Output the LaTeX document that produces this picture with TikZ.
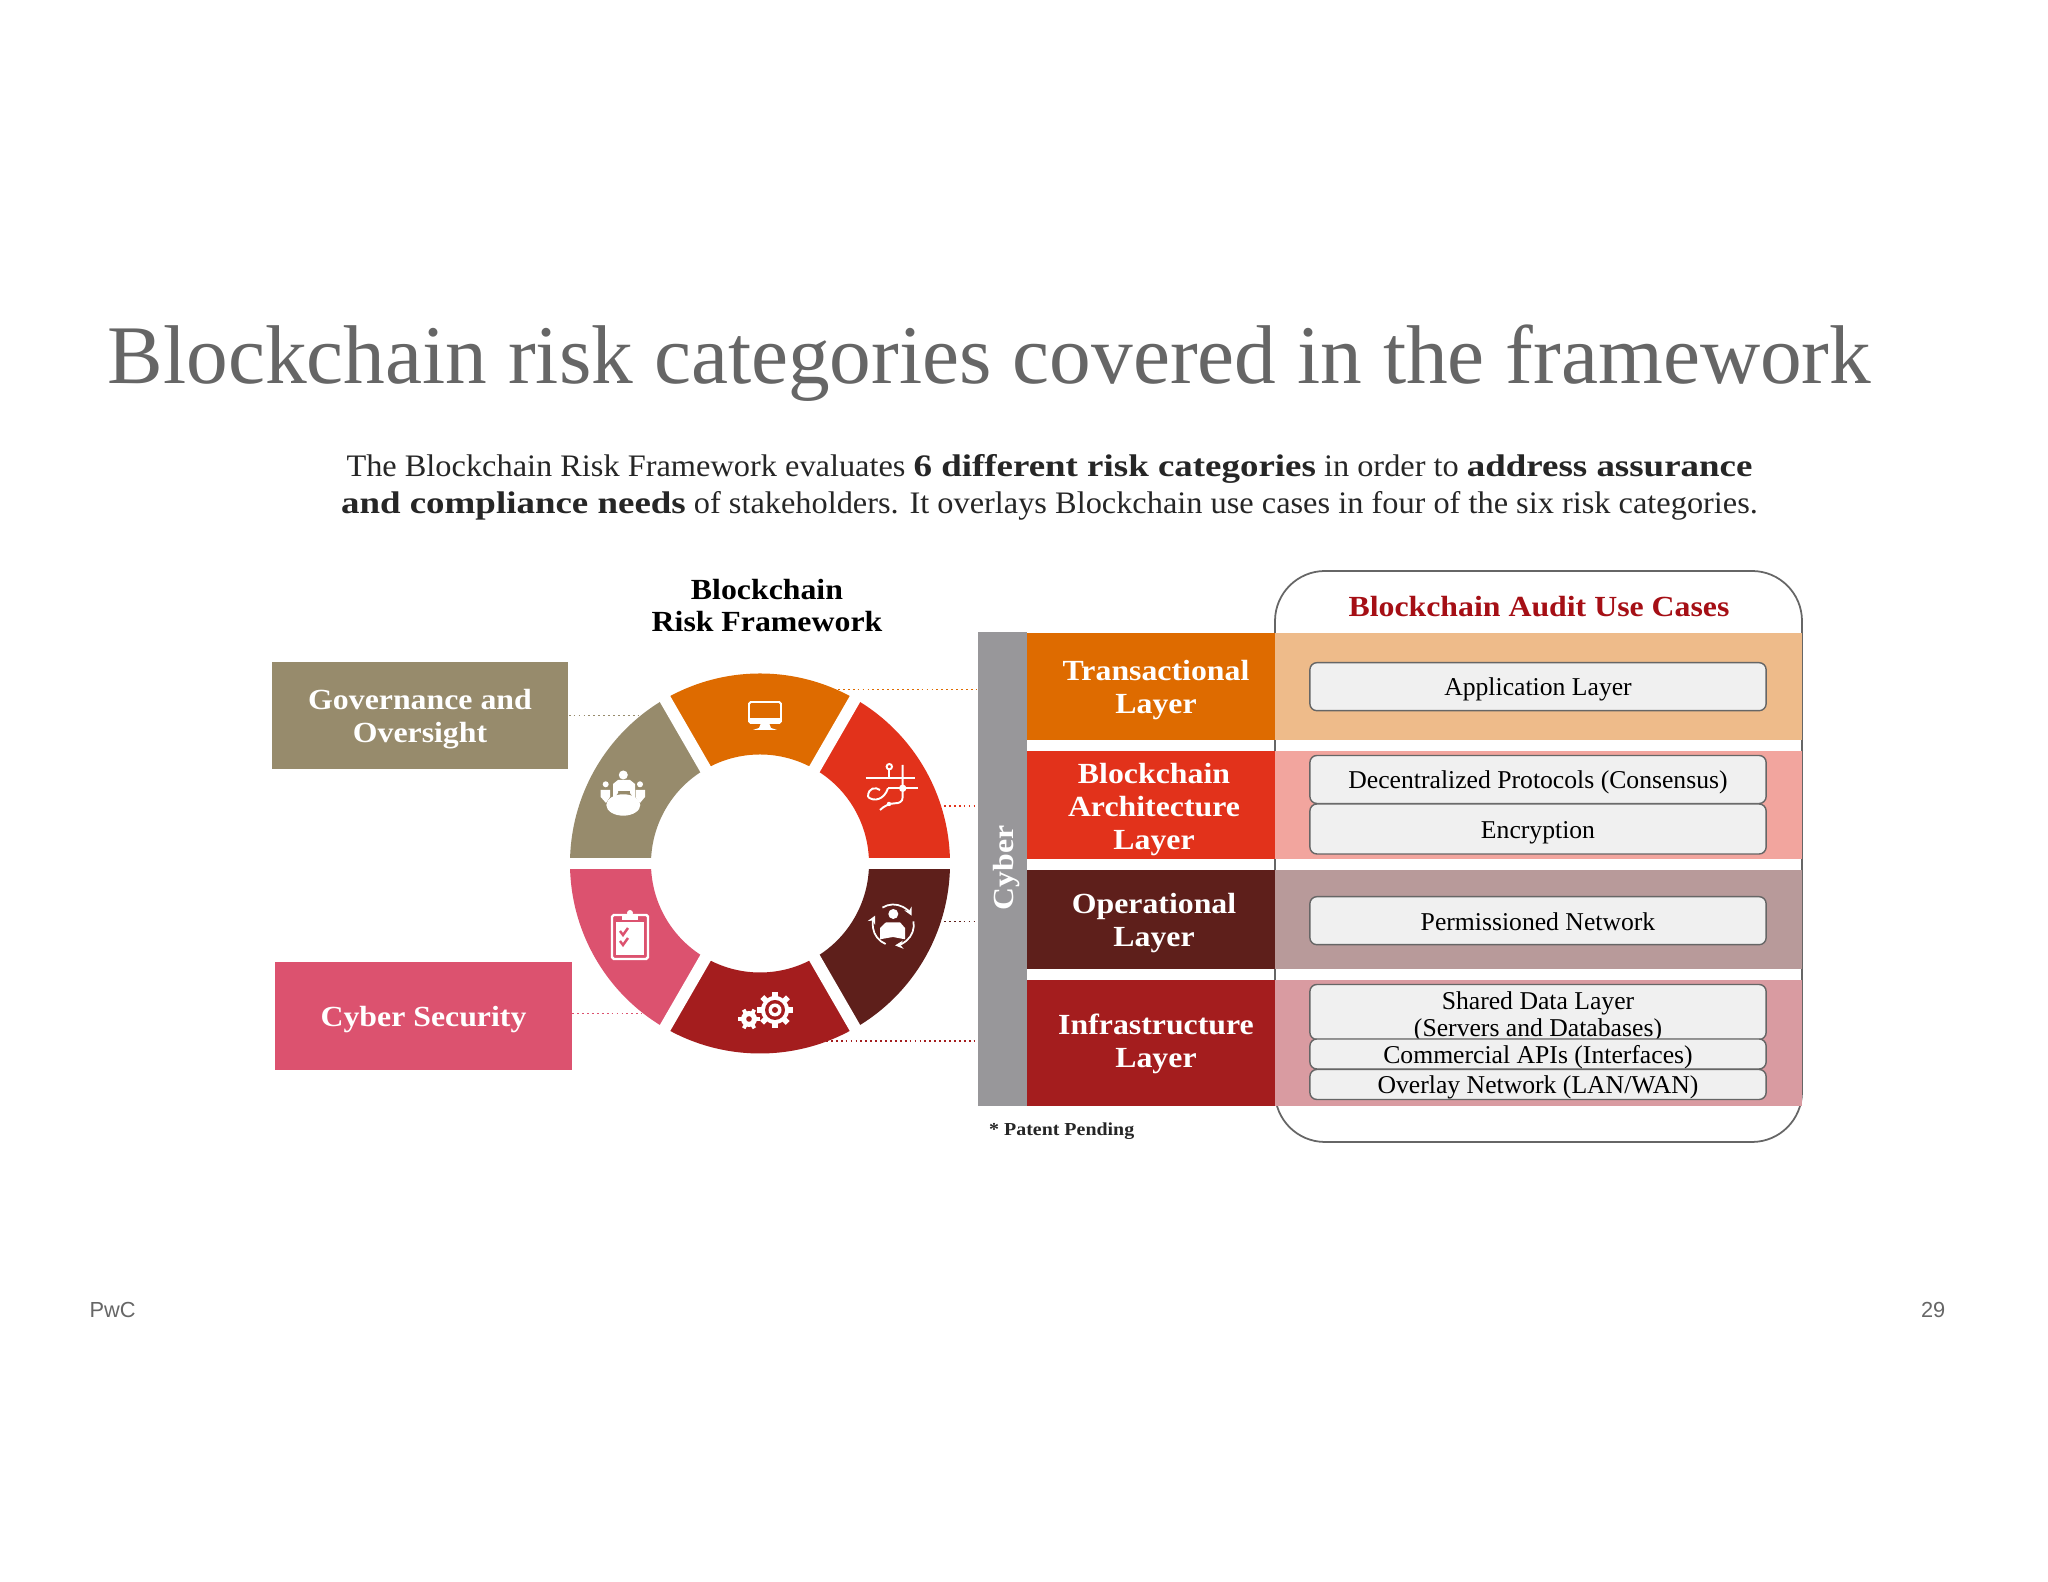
\documentclass[tikz,border=0pt]{standalone}
\usepackage{fontspec}
\setmainfont[BoldFeatures={FakeStretch=1.09}]{Liberation Serif}
\newfontfamily\introfont[FakeStretch=1.034,BoldFeatures={FakeStretch=1.18}]{Liberation Serif}
\newfontfamily\pagefont{Liberation Sans}
\usetikzlibrary{arrows.meta}
\definecolor{olive}{HTML}{978B6C}
\definecolor{rose}{HTML}{DC526F}
\definecolor{amber}{HTML}{DE6B00}
\definecolor{scarlet}{HTML}{E2321B}
\definecolor{maroon}{HTML}{5E1F1B}
\definecolor{crimson}{HTML}{A41D1E}
\definecolor{lamber}{HTML}{EEBB8A}
\definecolor{lscarlet}{HTML}{F2A59E}
\definecolor{lmaroon}{HTML}{B89A9A}
\definecolor{lcrimson}{HTML}{D99BA1}
\definecolor{bargray}{HTML}{98979A}
\definecolor{usered}{HTML}{A50F15}
\newcommand{\ustrut}{\rule{0pt}{6.8pt}\rule[-1.4pt]{0pt}{1.4pt}}
\tikzset{
  box/.style={inner sep=0pt},
  boxtext/.style={inner sep=0pt,text=white,align=center,font=\fontsize{8.3}{9.4}\selectfont\bfseries},
  panel/.style={inner sep=0pt,minimum width=5.27cm},
  usecase/.style={draw=black!60,line width=.4pt,fill=black!6,rounded corners=2pt,inner sep=0pt,
    minimum width=4.56cm,align=center,font=\fontsize{7.3}{7.7}\selectfont},
  link/.style={dash pattern=on .5pt off .9pt,line width=.5pt},
  icon/.style={draw=white,line width=.55pt}
}
\begin{document}
\begin{tikzpicture}[x=.01cm,y=.01cm]
  \useasboundingbox[fill=white] (0,0) rectangle (2048,1582);

  \node[text=black!60,anchor=base west,inner sep=0pt,font=\fontsize{23.7}{26}\selectfont] (title) at (107,1198)
    {Blockchain risk categories covered in the framework};
  \node[text=black!85,align=center,inner sep=0pt,font=\introfont\fontsize{8.9}{10.7}\selectfont] (intro) at (1049.5,1094.5)
    {The Blockchain Risk Framework evaluates \textbf{6 different risk categories} in order to \textbf{address assurance}\\
     \textbf{and compliance needs} of stakeholders. It overlays Blockchain use cases in four of the six risk categories.};

  % ring
  \node[align=center,inner sep=0pt,font=\fontsize{8.3}{9.1}\selectfont\bfseries] (ringtitle) at (767,976)
    {Blockchain\\Risk Framework};
  \foreach \a/\col in {0/scarlet,60/amber,120/olive,180/rose,240/crimson,300/maroon}
    \fill[\col] (760,718.5) ++(\a:190) arc[start angle=\a,delta angle=60,radius=190]
      -- ++(\a+60:-81) arc[start angle=\a+60,delta angle=-60,radius=109] -- cycle;
  \foreach \a in {0,60,120}
    \draw[white,line width=3.4pt] (760,718.5) ++(\a:200) -- ++(\a:-400);

  % icons
  \draw[icon,rounded corners=.5pt] (749,880) rectangle (781,859);
  \fill[white] (749,864) rectangle (781,859);
  \fill[white] (761,859) -- (769,859) -- (771,854) -- (777,852) -- (753,852) -- (759,854) -- cycle;

  \fill[white] (623.3,777) ellipse [x radius=17,y radius=10.7];
  \fill[white] (623.3,807) circle (4.5);
  \fill[white] (613,782) -- (613,798) -- (618,802) -- (630,802) -- (635,798) -- (635,782)
    -- (630,789) -- (630,791) -- (618,791) -- (618,789) -- cycle;
  \fill[white] (605.7,797.7) circle (3);
  \fill[white] (640,797.7) circle (3);
  \fill[white] (600.7,792) -- (610,792) -- (610,785) -- (606,779) -- (600.7,785) -- cycle;
  \fill[white] (645,792) -- (635.5,792) -- (635.5,785) -- (640,779) -- (645,785) -- cycle;

  \draw[icon] (865.7,803.7) -- (915,803.7);
  \draw[icon] (889.3,812) -- (889.3,803.7);
  \draw[icon] (889.3,815.3) circle (2.7);
  \draw[icon] (888,793.7) -- (917.7,793.7);
  \draw[icon] (902.7,817) -- (902.7,785) .. controls (902.7,780) and (899,778.7) .. (895,778.7)
    .. controls (890,778.7) and (884,776) .. (880,772);
  \fill[white] (902.7,793.7) circle (3.7);
  \fill[white] (889,778) circle (2.2);
  \draw[icon] (868,785) .. controls (868,795) and (876,795) .. (880,792);
  \draw[icon] (868,785) .. controls (874,780) and (884,782) .. (888,793.7);

  \draw[white,line width=.7pt,rounded corners=.5pt] (612,667) rectangle (648,623);
  \fill[white] (616,660) rectangle (644,627);
  \fill[white] (622,667) rectangle (638,662);
  \fill[white] (630,669) circle (3);
  \draw[rose,line width=.7pt] (620,651) -- (623,647) -- (628,654);
  \draw[rose,line width=.7pt] (620,641) -- (623,637) -- (628,644);

  \fill[white] (775,572) circle (14);
  \foreach \a in {0,45,...,315}
    \fill[white] (775,572) ++(\a-14:12) -- ++(\a:6.5) -- ++(\a+90:5.5) -- ++(\a+180:6.5) -- cycle;
  \fill[crimson] (775,572) circle (10);
  \fill[white] (775,572) circle (6.5);
  \fill[crimson] (775,572) circle (3);
  \fill[white] (749,563) circle (8);
  \foreach \a in {0,60,...,300}
    \fill[white] (749,563) ++(\a-18:6) -- ++(\a:5) -- ++(\a+90:3.8) -- ++(\a+180:5) -- cycle;
  \fill[crimson] (749,563) circle (2.8);

  \fill[white] (893.3,668) circle (5);
  \fill[white] (880,642.7) -- (880,654) -- (886,659.7) -- (900,659.7) -- (905,654) -- (905,642.7)
    -- (893,645) -- cycle;
  \foreach \a in {122,10,248}
    \draw[white,line width=.5pt,-{Stealth[length=.08cm,width=.08cm]}] (893.3,657) ++(\a:20.5)
      arc[start angle=\a,delta angle=-95,radius=20.5];

  % boxes left
  \node[box,fill=olive,minimum width=2.96cm,minimum height=1.07cm] (gov) at (420,866.5) {};
  \node[box,fill=rose,minimum width=2.96cm,minimum height=1.07cm] (sec) at (423.5,566) {};
  \node[boxtext] (govtext) at (420,862.5) {Governance and\\Oversight};
  \node[boxtext] (sectext) at (423.5,562) {Cyber Security};
  \coordinate (g1) at (638,866.5);
  \coordinate (s1) at (642,568.5);
  \coordinate (c1) at (838,892.6);
  \coordinate (c2) at (944,776);
  \coordinate (c3) at (944,660.4);
  \coordinate (c4) at (826,541);

  % layers
  \draw[black!60,line width=.5pt,rounded corners=.5cm] (1275,1011) rectangle (1802,440);
  \node[box,fill=bargray,minimum width=.49cm,minimum height=4.74cm] (bar) at (1002.5,713) {};
  \node[boxtext,rotate=90] (cyber) at (1007,714) {Cyber};
  \node[box,fill=amber,minimum width=2.48cm,minimum height=1.07cm] (l1) at (1151,895.5) {};
  \node[box,fill=scarlet,minimum width=2.48cm,minimum height=1.075cm] (l2) at (1151,777) {};
  \node[box,fill=maroon,minimum width=2.48cm,minimum height=.983cm] (l3) at (1151,662.5) {};
  \node[box,fill=crimson,minimum width=2.48cm,minimum height=1.26cm] (l4) at (1151,539) {};
  \node[boxtext] (l1text) at (1156,891.5) {Transactional\\Layer};
  \node[boxtext] (l2text) at (1154,772.5) {Blockchain\\Architecture\\Layer};
  \node[boxtext] (l3text) at (1154,659) {Operational\\Layer};
  \node[boxtext] (l4text) at (1156,538) {Infrastructure\\Layer};

  \node[panel,fill=lamber,minimum height=1.07cm] (p1) at (1538.5,895.5) {};
  \node[panel,fill=lscarlet,minimum height=1.075cm] (p2) at (1538.5,777) {};
  \node[panel,fill=lmaroon,minimum height=.983cm] (p3) at (1538.5,662.5) {};
  \node[panel,fill=lcrimson,minimum height=1.26cm] (p4) at (1538.5,539) {};

  \node[text=usered,inner sep=0pt,font=\fontsize{8.3}{9}\selectfont\bfseries] (head) at (1539,975) {Blockchain Audit Use Cases};
  \node[usecase,minimum height=.48cm] (u1) at (1538,895.3) {\ustrut Application Layer};
  \node[usecase,minimum height=.48cm] (u2) at (1538,802.5) {\ustrut Decentralized Protocols (Consensus)};
  \node[usecase,minimum height=.50cm] (u3) at (1538,753) {\ustrut Encryption};
  \node[usecase,minimum height=.48cm] (u4) at (1538,661.3) {\ustrut Permissioned Network};
  \node[usecase,minimum height=.55cm] (u5) at (1538,570) {};
  \node[inner sep=0pt,align=center,font=\fontsize{7.3}{7.7}\selectfont] (u5text) at (1538,565.5) {Shared Data Layer\\(Servers and Databases)};
  \node[usecase,minimum height=.30cm] (u6) at (1538,528) {\ustrut Commercial APIs (Interfaces)};
  \node[usecase,minimum height=.30cm] (u7) at (1538,497.5) {\ustrut Overlay Network (LAN/WAN)};

  \node[anchor=west,inner sep=0pt,text=black!85,font=\fontsize{5.2}{6}\selectfont\bfseries] (patent) at (988.5,451) {* Patent Pending};

  % connectors
  \draw[link,olive] (gov.east) -- (g1);
  \draw[link,rose] (sec.east |- s1) -- (s1);
  \foreach \from/\col in {c1/amber,c2/scarlet,c3/maroon,c4/crimson}
    \draw[link,\col] (\from) -- (\from -| bar.west);

  \node[anchor=west,inner sep=0pt,text=black!60,font=\fontsize{6.2}{7}\selectfont\pagefont] (pwc) at (89,271.5) {PwC};
  \node[anchor=east,inner sep=0pt,text=black!60,font=\fontsize{6.2}{7}\selectfont\pagefont] (page) at (1946,271.5) {29};
\end{tikzpicture}
\end{document}
